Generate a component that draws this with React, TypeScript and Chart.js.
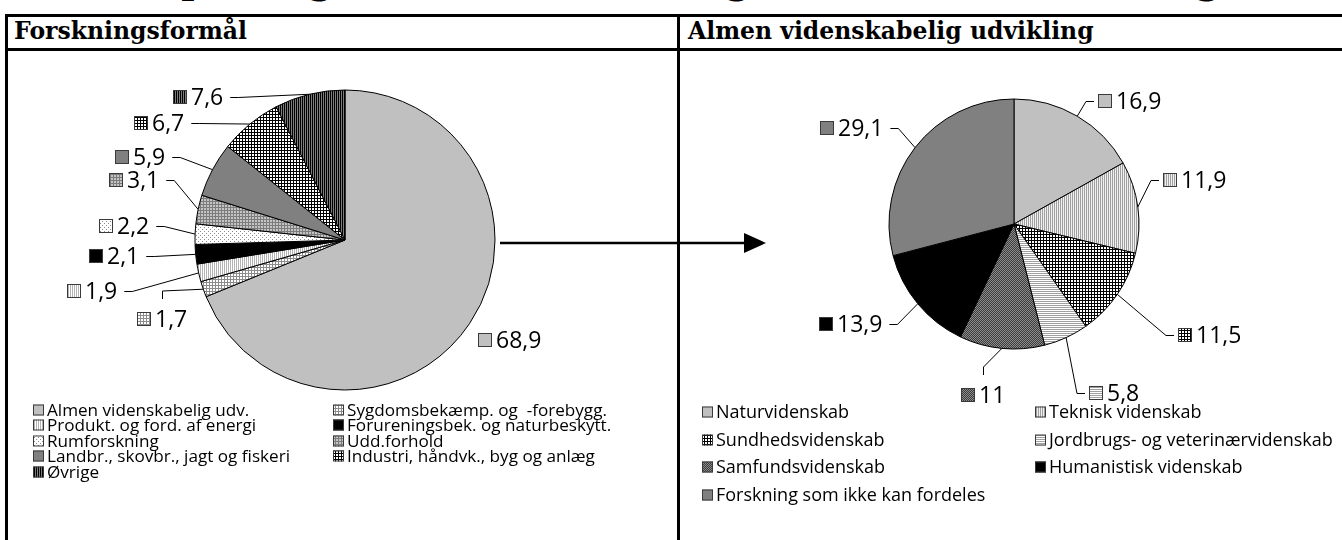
import React, { useEffect, useRef } from "react";
import { Chart, registerables } from "chart.js";

Chart.register(...registerables);

// ---------- texts ----------
const titleText = "Opdeling af statens forskningsmidler efter formål og udvikling, 2008, pct.";
const leftHeader = "Forskningsformål";
const rightHeader = "Almen videnskabelig udvikling";

// ---------- data ----------
const formaalCategories = [
  "Almen videnskabelig udv.",
  "Sygdomsbekæmp. og  -forebygg.",
  "Produkt. og ford. af energi",
  "Forureningsbek. og naturbeskytt.",
  "Rumforskning",
  "Udd.forhold",
  "Landbr., skovbr., jagt og fiskeri",
  "Industri, håndvk., byg og anlæg",
  "Øvrige",
];
const formaalValues = [68.9, 1.7, 1.9, 2.1, 2.2, 3.1, 5.9, 6.7, 7.6];

const almenCategories = [
  "Naturvidenskab",
  "Teknisk videnskab",
  "Sundhedsvidenskab",
  "Jordbrugs- og veterinærvidenskab",
  "Samfundsvidenskab",
  "Humanistisk videnskab",
  "Forskning som ikke kan fordeles",
];
const almenValues = [16.9, 11.9, 11.5, 5.8, 11, 13.9, 29.1];

// ---------- styles ----------
const formaalFillSpecs = [
  "solid:#c0c0c0",
  "grid3:#ffffff:#8c8c8c",
  "vline:#ffffff:#b4b4b4",
  "solid:#000000",
  "dots:#ffffff:#8c8c8c",
  "grid3:#c4c4c4:#7c7c7c",
  "solid:#808080",
  "grid3:#ffffff:#000000",
  "vline:#7c7c7c:#000000",
];
const almenFillSpecs = [
  "solid:#c0c0c0",
  "vline:#f0f0f0:#a0a0a0",
  "grid3:#ffffff:#000000",
  "hline:#ffffff:#a0a0a0",
  "checker:#8c8c8c:#3c3c3c",
  "solid:#000000",
  "solid:#808080",
];

// label placement relative to pie centre: [dx, dy, leader mode]
const formaalLabelLayout: [number, number, string][] = [
  [133, 100, "none"],
  [-208, 79, "v"],
  [-278, 51, "h"],
  [-256, 16, "h"],
  [-246, -14, "h"],
  [-236, -60, "h"],
  [-230, -83, "h"],
  [-211, -117, "h"],
  [-172, -143, "h"],
];
const almenLabelLayout: [number, number, string][] = [
  [84, -123, "h"],
  [149, -44, "h"],
  [164, 111, "h"],
  [75, 169, "h"],
  [-53, 171, "v"],
  [-195, 100, "h"],
  [-194, -96, "h"],
];

const LABEL_FONT = '23px "Open Sans"';

function makeFill(spec: string): string | CanvasPattern {
  const [kind, bg, fg] = spec.split(":");
  if (kind === "solid") return bg;
  const period = kind === "grid3" ? 3 : kind === "dots" ? 4 : 2;
  const c = document.createElement("canvas");
  c.width = period;
  c.height = period;
  const g = c.getContext("2d")!;
  g.fillStyle = bg;
  g.fillRect(0, 0, period, period);
  g.fillStyle = fg;
  if (kind === "grid3") {
    g.fillRect(0, 0, period, 1);
    g.fillRect(0, 0, 1, period);
  } else if (kind === "vline") {
    g.fillRect(0, 0, 1, period);
  } else if (kind === "hline") {
    g.fillRect(0, 0, period, 1);
  } else if (kind === "dots") {
    g.fillRect(0, 0, 1, 1);
    g.fillRect(2, 2, 1, 1);
  } else if (kind === "checker") {
    g.fillRect(0, 0, 1, 1);
    g.fillRect(1, 1, 1, 1);
  }
  return g.createPattern(c, "repeat")!;
}

const fmt = (v: number) => String(v).replace(".", ",");

type LegendCfg = { cols: number[]; y0: number; rowH: number; font: string; box: number; scaleX: number };

type PieProps = {
  left: number;
  top: number;
  width: number;
  height: number;
  categories: string[];
  values: number[];
  fillSpecs: string[];
  labelLayout: [number, number, string][];
  padding: { left: number; top: number; right: number; bottom: number };
  legend: LegendCfg;
};

function PieChart(props: PieProps) {
  const ref = useRef<HTMLCanvasElement>(null);
  useEffect(() => {
    const canvas = ref.current!;
    const fills = props.fillSpecs.map(makeFill);
    const { labelLayout, legend } = props;

    const labelPlugin = {
      id: "pieLabels",
      afterDatasetsDraw(chart: any) {
        const ctx: CanvasRenderingContext2D = chart.ctx;
        const meta = chart.getDatasetMeta(0);
        const ds = chart.data.datasets[0];
        ctx.save();
        ctx.font = LABEL_FONT;
        ctx.textBaseline = "middle";
        meta.data.forEach((el: any, i: number) => {
          const p = el.getProps(["x", "y", "startAngle", "endAngle", "outerRadius"], true);
          const mid = (p.startAngle + p.endAngle) / 2;
          const ax = p.x + Math.cos(mid) * p.outerRadius;
          const ay = p.y + Math.sin(mid) * p.outerRadius;
          const [dx, dy, mode] = labelLayout[i];
          const lx = Math.round(p.x + dx);
          const ly = Math.round(p.y + dy);
          const txt = fmt(ds.data[i]);
          const tw = ctx.measureText(txt).width;
          ctx.fillStyle = fills[i] as any;
          ctx.fillRect(lx, ly - 7, 14, 14);
          ctx.strokeStyle = "#3a3a3a";
          ctx.lineWidth = 1;
          ctx.strokeRect(lx + 0.5, ly - 6.5, 13, 13);
          ctx.fillStyle = "#000";
          ctx.fillText(txt, lx + 18, ly + 1);
          ctx.strokeStyle = "#000";
          ctx.lineWidth = 1;
          ctx.beginPath();
          if (mode === "h") {
            if (lx < ax) {
              const sx = lx + 18 + tw + 7;
              ctx.moveTo(sx, ly + 0.5);
              ctx.lineTo(sx + 8, ly + 0.5);
            } else {
              const sx = lx - 4;
              ctx.moveTo(sx, ly + 0.5);
              ctx.lineTo(sx - 8, ly + 0.5);
            }
            ctx.lineTo(ax, ay);
            ctx.stroke();
          } else if (mode === "v") {
            const sx = Math.round(lx + (18 + tw) / 2) + 0.5;
            ctx.moveTo(sx, ly - 20);
            ctx.lineTo(sx, ly - 28);
            ctx.lineTo(ax, ay);
            ctx.stroke();
          }
        });
        ctx.restore();
      },
      afterDraw(chart: any) {
        const ctx: CanvasRenderingContext2D = chart.ctx;
        const labels: string[] = chart.data.labels;
        ctx.save();
        ctx.font = legend.font;
        ctx.textBaseline = "middle";
        labels.forEach((lab, i) => {
          const col = i % 2;
          const row = Math.floor(i / 2);
          const x = legend.cols[col];
          const y = Math.round(legend.y0 + row * legend.rowH);
          const b = legend.box;
          ctx.fillStyle = fills[i] as any;
          ctx.fillRect(x, y - b / 2, b, b);
          ctx.strokeStyle = "#3a3a3a";
          ctx.lineWidth = 1;
          ctx.strokeRect(x + 0.5, y - b / 2 + 0.5, b - 1, b - 1);
          ctx.fillStyle = "#000";
          ctx.save();
          ctx.translate(x + b + 3, y + 1);
          ctx.scale(legend.scaleX, 1);
          ctx.fillText(lab, 0, 0);
          ctx.restore();
        });
        ctx.restore();
      },
    };

    const chart = new Chart(canvas, {
      type: "pie",
      data: {
        labels: props.categories,
        datasets: [
          {
            data: props.values,
            backgroundColor: fills as any,
            borderColor: "#000000",
            borderWidth: 1,
          },
        ],
      },
      options: {
        responsive: false,
        animation: false,
        events: [],
        layout: { padding: props.padding },
        plugins: {
          legend: { display: false },
          tooltip: { enabled: false },
          title: { display: false },
        },
      },
      plugins: [labelPlugin],
    });
    return () => chart.destroy();
  }, []);
  return (
    <canvas
      ref={ref}
      width={props.width}
      height={props.height}
      style={{ position: "absolute", left: props.left, top: props.top, width: props.width, height: props.height }}
    />
  );
}

const line = (left: number, top: number, width: number, height: number): React.CSSProperties => ({
  position: "absolute",
  left,
  top,
  width,
  height,
  background: "#000",
});

export default function App() {
  const headerFont: React.CSSProperties = {
    position: "absolute",
    top: 17,
    fontFamily: '"DejaVu Serif", serif',
    fontWeight: "bold",
    fontSize: 23.5,
    lineHeight: "normal",
    whiteSpace: "nowrap",
    color: "#000",
  };
  return (
    <div style={{ position: "absolute", left: 0, top: 0, width: 1342, height: 540, overflow: "hidden", background: "#fff" }}>
      <div
        style={{
          position: "absolute",
          left: 150,
          top: -40,
          fontFamily: '"DejaVu Serif", serif',
          fontWeight: "bold",
          fontSize: 36,
          whiteSpace: "nowrap",
          lineHeight: "normal",
        }}
      >
        {titleText}
      </div>
      <div style={line(5, 14, 1337, 3)} />
      <div style={line(5, 48, 1337, 3)} />
      <div style={line(5, 14, 3, 526)} />
      <div style={line(677, 14, 3, 526)} />
      <div style={{ ...headerFont, left: 14 }}>{leftHeader}</div>
      <div style={{ ...headerFont, left: 688 }}>{rightHeader}</div>

      <PieChart
        left={8}
        top={51}
        width={669}
        height={489}
        categories={formaalCategories}
        values={formaalValues}
        fillSpecs={formaalFillSpecs}
        labelLayout={formaalLabelLayout}
        padding={{ left: 186.5, top: 38.5, right: 181.5, bottom: 149.5 }}
        legend={{ cols: [25, 325], y0: 359, rowH: 15.4, font: '16px "Open Sans"', box: 11, scaleX: 1.07 }}
      />
      <PieChart
        left={680}
        top={51}
        width={662}
        height={489}
        categories={almenCategories}
        values={almenValues}
        fillSpecs={almenFillSpecs}
        labelLayout={almenLabelLayout}
        padding={{ left: 208.5, top: 47.5, right: 202.5, bottom: 190.5 }}
        legend={{ cols: [22, 355], y0: 361, rowH: 27.7, font: '18px "Open Sans"', box: 11, scaleX: 1 }}
      />

      <svg width={1342} height={540} style={{ position: "absolute", left: 0, top: 0, pointerEvents: "none" }}>
        <line x1={500} y1={243} x2={748} y2={243} stroke="#000" strokeWidth={2.5} />
        <polygon points="744,233 766,243 744,253" fill="#000" />
      </svg>
    </div>
  );
}
